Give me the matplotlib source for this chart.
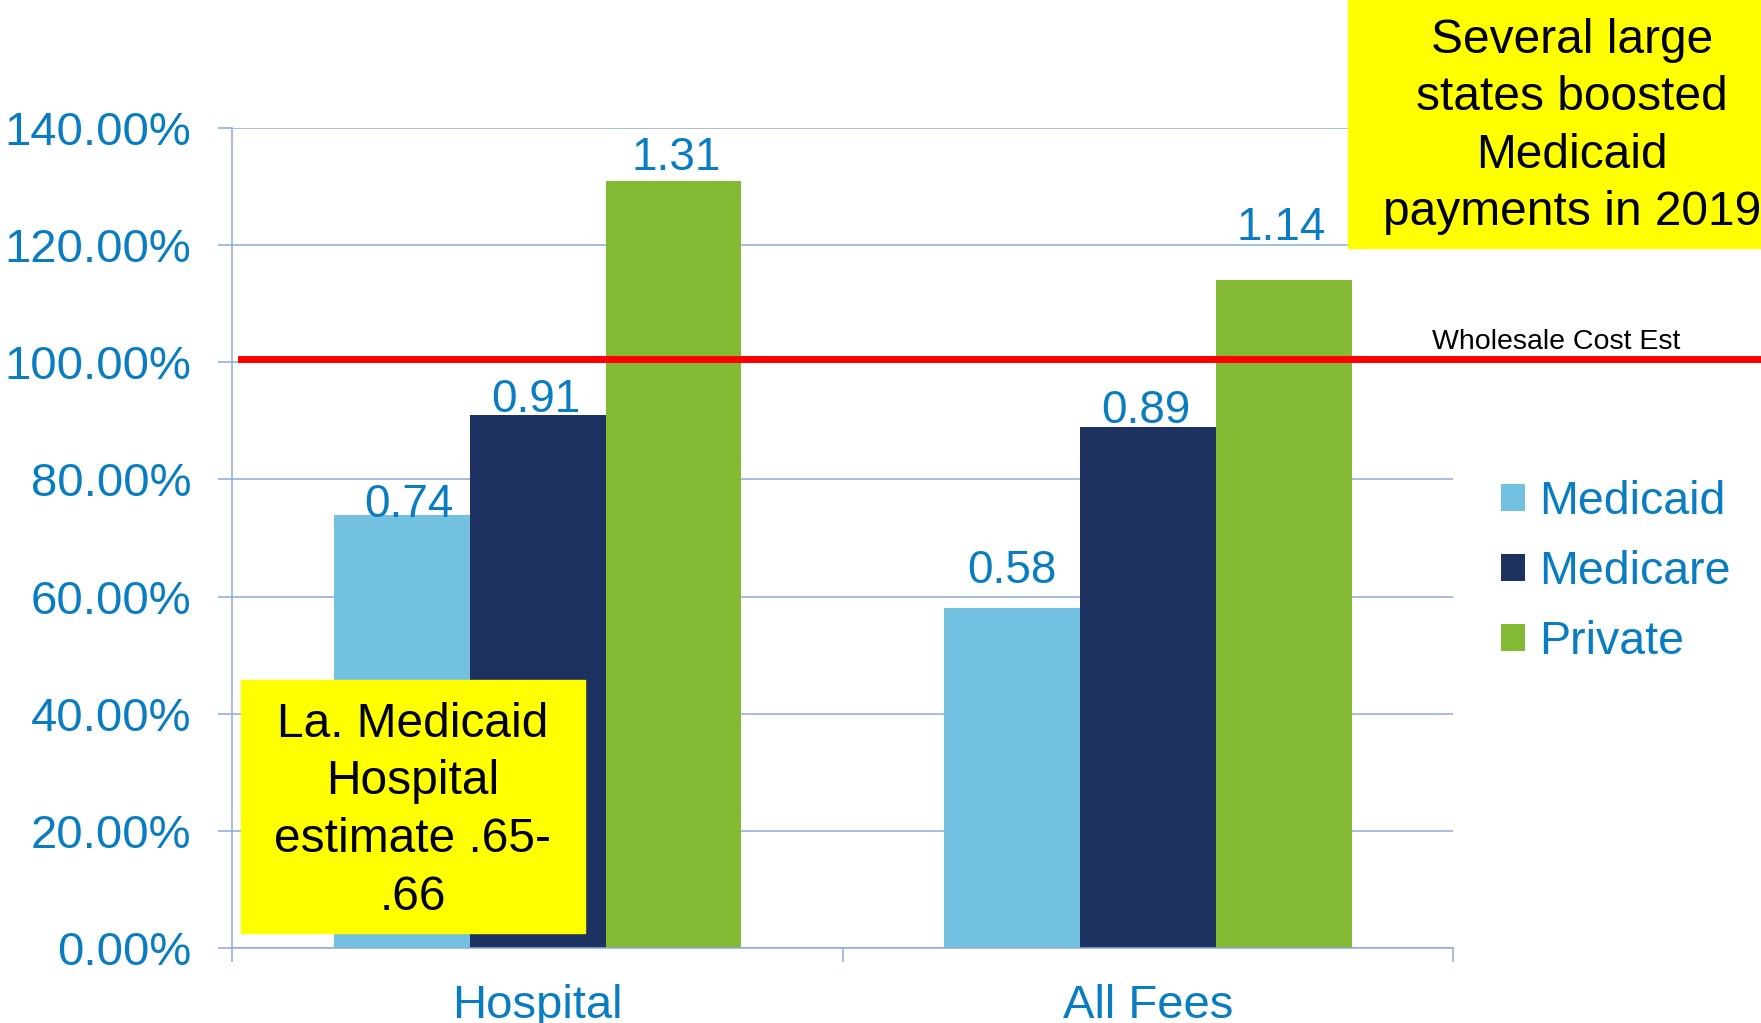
import matplotlib
matplotlib.use("Agg")
import matplotlib.pyplot as plt
from matplotlib.patches import Rectangle

plt.rcParams['font.family'] = ['Liberation Sans', 'DejaVu Sans']

categories = ["Hospital", "All Fees"]
series = ["Medicaid", "Medicare", "Private"]
values = {
    "Medicaid": [0.74, 0.58],
    "Medicare": [0.91, 0.89],
    "Private": [1.31, 1.14],
}
colors = {"Medicaid": "#73C1E0", "Medicare": "#1D3260", "Private": "#84BA33"}
yticks = [0, 0.2, 0.4, 0.6, 0.8, 1.0, 1.2, 1.4]
ref_level = 1.005
ref_label = "Wholesale Cost Est"
note_left = ["La. Medicaid", "Hospital", "estimate .65-", ".66"]
note_right = ["Several large", "states boosted", "Medicaid", "payments in 2019"]

# label nudges in pixels (dx, dy above bar top), hand placed in original
label_nudge = {
    "Medicaid": [(7, -2), (0, 25)],
    "Medicare": [(-2, 3), (-2, 4)],
    "Private": [(3, 11), (-2, 40)],
}

blue = "#0A7DC2"
gridc = "#8EAAD6"
W, H = 1761, 1023

fig = plt.figure(figsize=(W / 100, H / 100), dpi=100)
ax = fig.add_axes([232.5 / W, 75 / H, 1220.5 / W, 820 / H])

bw = 0.2225
for i, s in enumerate(series):
    xs = [c + (i - 1) * bw for c in range(len(categories))]
    bars = ax.bar(xs, values[s], width=bw, color=colors[s], label=s, zorder=2)
    for b, v, (dx, dy) in zip(bars, values[s], label_nudge[s]):
        ax.annotate(f"{v:.2f}", (b.get_x() + b.get_width() / 2, v),
                    xytext=(dx, dy), textcoords="offset pixels",
                    ha="center", va="baseline", fontsize=33, color=blue, zorder=4)

ax.axhline(ref_level, xmin=0.007, xmax=1.26, color="#FF0000", lw=5,
           clip_on=False, zorder=3)

ax.set_xlim(-0.5, 1.5)
ax.set_ylim(0, 1.4)
ax.set_yticks(yticks)
ax.set_yticklabels([f"{v * 100:.2f}%" for v in yticks])
ax.yaxis.grid(True, color=gridc, lw=1.1, zorder=0)
ax.set_axisbelow(True)

ax.set_xticks([-0.5, 0.5, 1.5])
ax.set_xticklabels([])
ax.set_xticks([0, 1], minor=True)
ax.set_xticklabels(categories, minor=True)

ax.tick_params(axis="y", length=10, width=1.1, color=gridc, pad=19.5,
               labelsize=34, labelcolor=blue)
ax.tick_params(axis="x", which="major", length=10, width=1.1, color=gridc)
ax.tick_params(axis="x", which="minor", length=0, pad=26,
               labelsize=34, labelcolor=blue)

for sp in ["top", "right"]:
    ax.spines[sp].set_visible(False)
for sp in ["left", "bottom"]:
    ax.spines[sp].set_color(gridc)
    ax.spines[sp].set_linewidth(1.1)

fig.text(1556.5 / W, 1 - 349 / H, ref_label, ha="center", va="baseline",
         fontsize=20.5, color="black")

# yellow note boxes
fig.add_artist(Rectangle((241 / W, 1 - 932.5 / H), 344 / W, 252.5 / H,
                         transform=fig.transFigure, color="#FFFF00", zorder=5))
for k, line in enumerate(note_left):
    fig.text(413 / W, 1 - (737 + 57.5 * k) / H, line, ha="center",
             va="baseline", fontsize=34.5, color="black", zorder=6)

fig.add_artist(Rectangle((1348 / W, 1 - 248 / H), 500 / W, 260 / H,
                         transform=fig.transFigure, color="#FFFF00", zorder=5))
for k, line in enumerate(note_right):
    fig.text(1572 / W, 1 - (53 + 57.3 * k) / H, line, ha="center",
             va="baseline", fontsize=34.5, color="black", zorder=6)

leg = fig.legend(loc="upper left", bbox_to_anchor=(1501 / W, 1 - 480 / H),
                 frameon=False, fontsize=33.5, handlelength=0.52,
                 handleheight=0.52, handletextpad=0.3, labelspacing=0.56,
                 borderpad=0, borderaxespad=0)
for t in leg.get_texts():
    t.set_color(blue)

fig.savefig("out.png", dpi=100)
